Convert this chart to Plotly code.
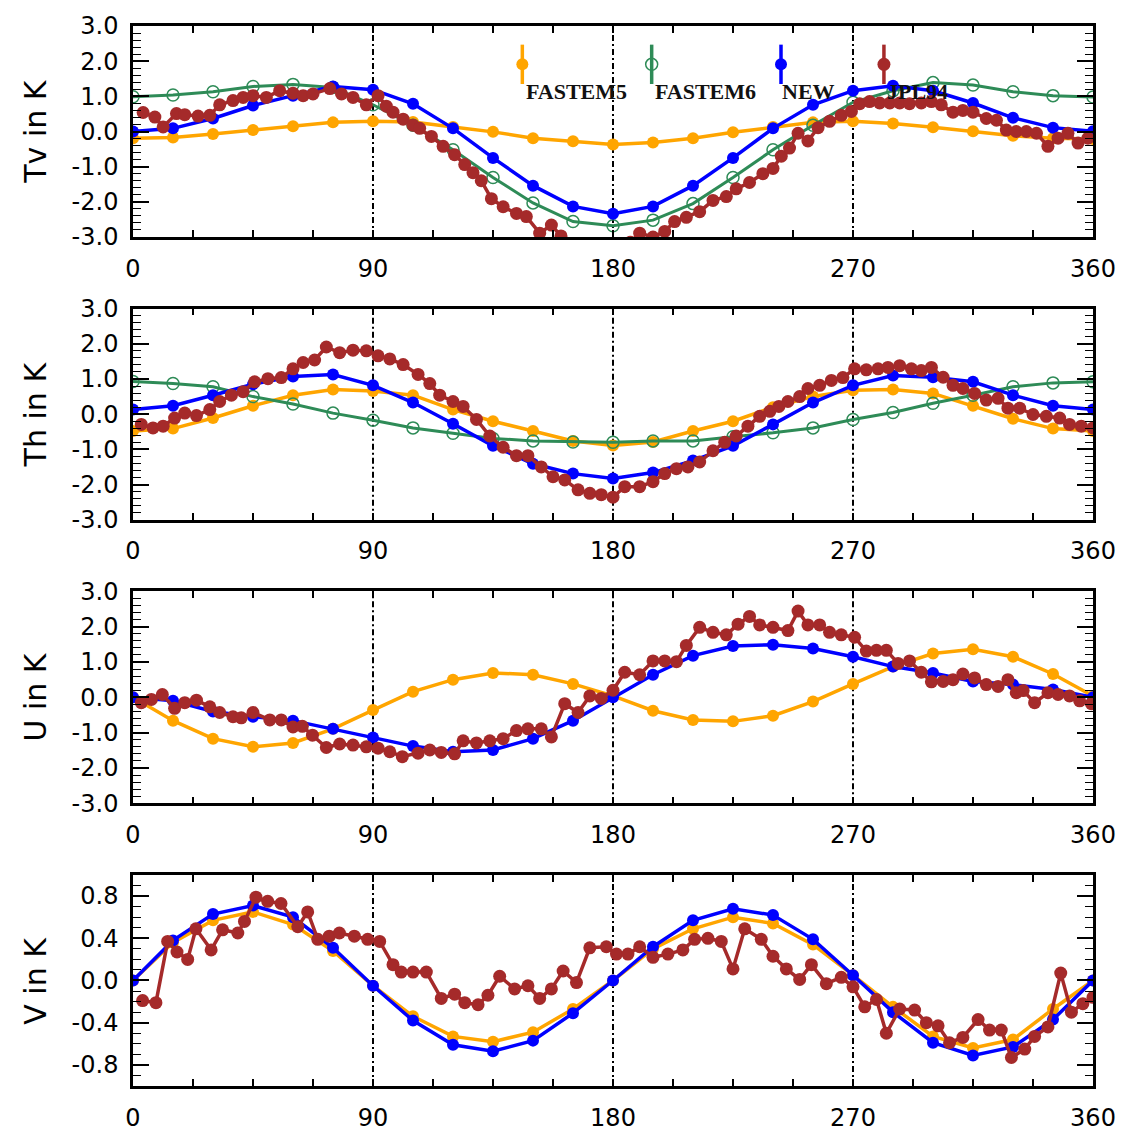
import plotly.graph_objects as go

# ---------------- data ----------------
angles = [0, 15, 30, 45, 60, 75, 90, 105, 120, 135, 150, 165, 180,
          195, 210, 225, 240, 255, 270, 285, 300, 315, 330, 345, 360]

f5_tv = [-0.19, -0.17, -0.07, 0.04, 0.15, 0.26, 0.29, 0.27, 0.13, -0.01, -0.19, -0.28, -0.37,
         -0.31, -0.19, -0.02, 0.13, 0.26, 0.29, 0.23, 0.12, 0.01, -0.12, -0.19, -0.21]
f6_tv = [0.99, 1.04, 1.13, 1.28, 1.34, 1.25, 0.76, 0.18, -0.52, -1.31, -2.03, -2.56, -2.68,
         -2.52, -2.05, -1.31, -0.52, 0.18, 0.83, 1.16, 1.39, 1.32, 1.13, 1.02, 0.98]
new_tv = [0.0, 0.09, 0.37, 0.74, 1.02, 1.28, 1.19, 0.79, 0.09, -0.75, -1.54, -2.13, -2.34,
          -2.13, -1.54, -0.75, 0.09, 0.76, 1.16, 1.30, 1.16, 0.81, 0.39, 0.11, 0.01]

f5_th = [-0.48, -0.41, -0.11, 0.24, 0.54, 0.70, 0.66, 0.54, 0.13, -0.20, -0.48, -0.76, -0.89,
         -0.79, -0.48, -0.20, 0.20, 0.50, 0.68, 0.70, 0.59, 0.24, -0.13, -0.41, -0.48]
f6_th = [0.93, 0.87, 0.78, 0.50, 0.29, 0.03, -0.17, -0.39, -0.54, -0.69, -0.76, -0.79, -0.80,
         -0.76, -0.76, -0.64, -0.53, -0.39, -0.15, 0.05, 0.31, 0.54, 0.78, 0.89, 0.92]
new_th = [0.13, 0.24, 0.54, 0.85, 1.07, 1.13, 0.82, 0.33, -0.27, -0.90, -1.41, -1.69, -1.83,
          -1.66, -1.32, -0.90, -0.29, 0.33, 0.82, 1.10, 1.05, 0.92, 0.54, 0.24, 0.13]

f5_u = [0.0, -0.66, -1.17, -1.40, -1.29, -0.89, -0.36, 0.16, 0.50, 0.69, 0.64, 0.38, 0.04,
        -0.38, -0.64, -0.68, -0.52, -0.12, 0.38, 0.87, 1.24, 1.36, 1.15, 0.66, 0.04]
new_u = [0.0, -0.10, -0.40, -0.55, -0.66, -0.89, -1.14, -1.38, -1.54, -1.49, -1.17, -0.66, 0.0,
         0.64, 1.18, 1.45, 1.49, 1.38, 1.15, 0.87, 0.69, 0.45, 0.36, 0.22, 0.0]

f5_v = [0.0, 0.36, 0.57, 0.65, 0.53, 0.28, -0.05, -0.34, -0.53, -0.58, -0.49, -0.27, 0.0,
        0.30, 0.49, 0.60, 0.54, 0.34, 0.05, -0.25, -0.53, -0.64, -0.56, -0.27, 0.0]
new_v = [0.0, 0.38, 0.63, 0.71, 0.60, 0.31, -0.05, -0.38, -0.61, -0.67, -0.57, -0.31, 0.0,
         0.32, 0.57, 0.68, 0.62, 0.39, 0.05, -0.30, -0.59, -0.71, -0.63, -0.37, 0.0]

jpl_tv_angle = [3.8, 8.2, 11.3, 16.3, 19.4, 24.4, 28.8, 32.5, 37.5, 41.3, 45.0, 50.0, 55.0, 60.0,
                63.8, 67.5, 73.8, 78.2, 82.5, 87.5, 91.9, 95.0, 97.5, 101.3, 105.0, 107.5, 111.9,
                116.3, 120.6, 124.4, 127.5, 130.6, 134.4, 138.8, 143.8, 147.5, 152.5, 156.9, 160.5,
                164.5, 169.0, 173.5, 178.0, 182.5, 186.5, 190.0, 195.0, 199.4, 203.1, 207.5, 212.5,
                217.5, 222.5, 226.2, 231.2, 236.2, 240.0, 243.1, 246.2, 249.4, 253.1, 256.9, 261.2,
                265.6, 269.4, 272.5, 276.2, 280.0, 283.8, 287.5, 291.2, 295.6, 299.4, 303.1, 307.5,
                311.2, 315.0, 320.0, 323.8, 327.5, 331.2, 335.0, 338.8, 343.1, 346.9, 350.6, 354.4,
                358.1]
jpl_tv = [0.54, 0.41, 0.13, 0.51, 0.48, 0.44, 0.46, 0.76, 0.88, 0.97, 1.02, 0.97, 1.16, 1.09,
          1.02, 1.07, 1.22, 1.07, 0.97, 0.76, 1.02, 0.72, 0.55, 0.35, 0.18, 0.09, -0.14,
          -0.42, -0.66, -0.94, -1.17, -1.40, -1.91, -2.14, -2.33, -2.42, -2.89, -2.66, -2.97,
          -3.3, -3.4, -3.45, -3.4, -3.35, -3.15, -2.89, -3.0, -2.84, -2.56, -2.44, -2.28,
          -1.96, -1.85, -1.63, -1.45, -1.20, -1.05, -0.70, -0.47, -0.05, -0.27, 0.11, 0.29,
          0.46, 0.57, 0.79, 0.85, 0.81, 0.81, 0.81, 0.79, 0.81, 0.85, 0.76, 0.55,
          0.60, 0.55, 0.37, 0.32, 0.04, 0.0, 0.0, -0.05, -0.42, -0.19, -0.05, -0.33,
          -0.19]

jpl_th_angle = [3.1, 7.5, 11.3, 15.6, 19.4, 23.8, 28.8, 32.5, 36.9, 41.3, 45.6, 50.6, 55.6, 60.0,
                63.8, 68.1, 72.5, 77.5, 82.5, 87.5, 91.9, 96.3, 101.3, 106.9, 111.3, 115.0, 120.0,
                123.8, 128.8, 133.8, 138.8, 143.8, 148.1, 153.1, 157.5, 161.9, 166.9, 171.3, 175.6,
                180.0, 184.4, 190.0, 195.0, 199.4, 203.8, 208.1, 212.5, 217.5, 221.9, 226.2, 230.6,
                235.0, 238.8, 242.2, 245.6, 250.0, 253.1, 257.5, 261.9, 266.2, 270.6, 275.0, 279.4,
                283.1, 287.5, 291.9, 295.6, 299.4, 303.8, 307.5, 311.2, 315.6, 320.0, 324.4, 328.1,
                332.5, 337.5, 342.5, 347.5, 351.2, 355.6, 360.0]
jpl_th = [-0.29, -0.39, -0.34, -0.11, 0.03, -0.04, 0.13, 0.36, 0.54, 0.64, 0.92, 1.01, 1.04, 1.29,
          1.47, 1.54, 1.91, 1.75, 1.82, 1.80, 1.66, 1.57, 1.41, 1.13, 0.87, 0.54, 0.36,
          0.22, -0.15, -0.62, -0.94, -1.18, -1.18, -1.50, -1.78, -1.87, -2.15, -2.25, -2.29,
          -2.36, -2.06, -2.06, -1.92, -1.69, -1.55, -1.50, -1.36, -1.04, -0.80, -0.62, -0.34,
          -0.06, 0.08, 0.22, 0.36, 0.50, 0.73, 0.82, 0.96, 1.04, 1.29, 1.26, 1.29,
          1.33, 1.38, 1.29, 1.24, 1.33, 1.05, 0.82, 0.73, 0.59, 0.40, 0.45, 0.17,
          0.17, -0.01, -0.06, -0.11, -0.29, -0.34, -0.39]

jpl_u_angle = [3.1, 6.9, 11.0, 15.6, 19.4, 23.8, 28.8, 32.5, 37.5, 40.6, 45.0, 51.3, 55.6, 60.0,
               63.5, 67.3, 72.5, 77.5, 82.5, 87.5, 91.9, 96.3, 101.0, 106.9, 111.3, 115.6, 120.6,
               123.8, 128.8, 133.8, 138.8, 143.8, 148.1, 153.1, 156.9, 161.9, 166.9, 171.3, 175.6,
               180.0, 184.4, 190.0, 195.0, 199.4, 203.8, 207.5, 212.5, 217.5, 222.5, 226.9, 231.2,
               235.0, 240.0, 245.6, 249.4, 253.1, 257.5, 261.2, 265.6, 270.6, 275.0, 278.8, 282.5,
               286.9, 291.2, 295.6, 299.4, 303.8, 307.5, 311.2, 315.6, 320.0, 324.4, 328.1, 331.2,
               333.8, 338.1, 343.1, 346.9, 351.2, 355.0, 359.4]
jpl_u = [-0.15, -0.06, 0.08, -0.31, -0.15, -0.08, -0.27, -0.43, -0.55, -0.58, -0.43, -0.64, -0.64, -0.84,
         -0.82, -1.07, -1.42, -1.32, -1.35, -1.40, -1.44, -1.54, -1.68, -1.58, -1.49, -1.56, -1.60,
         -1.23, -1.29, -1.23, -1.17, -0.94, -0.89, -0.89, -1.12, -0.18, -0.43, 0.04, -0.03,
         0.20, 0.71, 0.64, 1.03, 1.03, 1.01, 1.47, 1.98, 1.84, 1.77, 2.07, 2.29,
         2.05, 1.98, 1.89, 2.44, 2.05, 2.05, 1.84, 1.77, 1.70, 1.31, 1.33, 1.33,
         0.96, 1.03, 0.71, 0.44, 0.45, 0.50, 0.66, 0.55, 0.36, 0.31, 0.50, 0.13,
         0.19, -0.15, 0.13, 0.08, 0.04, -0.10, -0.18]

jpl_v_angle = [3.6, 8.6, 13.0, 16.5, 20.5, 23.6, 29.3, 33.6, 39.3, 41.8, 46.1, 50.5, 55.5, 61.8,
               65.5, 69.3, 73.6, 77.4, 83.0, 88.0, 92.5, 97.5, 100.6, 105.0, 110.0, 115.6, 120.6,
               124.4, 129.4, 133.1, 137.5, 143.1, 148.1, 152.5, 156.9, 161.3, 166.3, 171.3, 177.5,
               181.3, 185.6, 190.0, 195.0, 200.6, 206.2, 210.6, 215.6, 220.6, 225.0, 229.4, 235.6,
               240.0, 245.0, 250.0, 254.4, 260.0, 265.6, 270.0, 274.4, 278.8, 282.5, 287.5, 293.1,
               297.5, 301.9, 306.2, 311.2, 316.9, 321.2, 325.6, 329.4, 334.4, 338.1, 343.1, 347.9,
               351.9, 356.2, 360.0]
jpl_v = [-0.19, -0.21, 0.37, 0.27, 0.20, 0.49, 0.29, 0.48, 0.45, 0.56, 0.79, 0.75, 0.73, 0.51,
         0.65, 0.39, 0.42, 0.45, 0.42, 0.39, 0.37, 0.15, 0.08, 0.08, 0.08, -0.17, -0.13,
         -0.21, -0.23, -0.14, 0.04, -0.08, -0.05, -0.17, -0.08, 0.09, -0.02, 0.31, 0.32,
         0.25, 0.25, 0.32, 0.22, 0.25, 0.29, 0.39, 0.40, 0.37, 0.11, 0.49, 0.39,
         0.23, 0.11, 0.01, 0.15, -0.03, 0.03, -0.06, -0.25, -0.18, -0.50, -0.27, -0.28,
         -0.40, -0.43, -0.59, -0.54, -0.37, -0.47, -0.47, -0.73, -0.65, -0.53, -0.44, 0.07,
         -0.30, -0.22, -0.16]

series_names = ["FASTEM5", "FASTEM6", "NEW", "JPL94"]
y_titles = ["Tv in K", "Th in K", "U in K", "V in K"]
x_ticks = [0, 22.5, 45, 67.5, 90, 112.5, 135, 157.5, 180, 202.5, 225, 247.5,
           270, 292.5, 315, 337.5, 360]
x_labels = ["0", "", "", "", "90", "", "", "", "180", "", "", "", "270", "", "", "", "360"]
y_ticks_k = [-3, -2, -1, 0, 1, 2, 3]
y_ticks_v = [-0.8, -0.4, 0.0, 0.4, 0.8]

# ---------------- styles ----------------
C_F5 = "#FFA500"
C_F6 = "#2E8B57"
C_NEW = "#0000FF"
C_JPL = "#A52A2A"

FONT = "DejaVu Sans"

W, H = 1128, 1144
L, R, T, B = 133, 33, 19, 45
ph = H - T - B
panel_px = [(19, 234), (307, 522), (595, 811), (884, 1099)]
domains = [[(H - B - b) / ph, (H - B - t) / ph] for (t, b) in panel_px]

fig = go.Figure()


def style_f5():
    return dict(mode="lines+markers", line=dict(color=C_F5, width=3.5),
                marker=dict(color=C_F5, size=12, symbol="circle"))


def style_f6():
    return dict(mode="lines+markers", line=dict(color=C_F6, width=3),
                marker=dict(color=C_F6, size=12, symbol="circle-open",
                            line=dict(width=1.5)))


def style_new():
    return dict(mode="lines+markers", line=dict(color=C_NEW, width=3.5),
                marker=dict(color=C_NEW, size=12, symbol="circle"))


def style_jpl():
    return dict(mode="lines+markers", line=dict(color=C_JPL, width=3.5),
                marker=dict(color=C_JPL, size=13, symbol="circle"))


panels = [
    (f5_tv, f6_tv, new_tv, jpl_tv_angle, jpl_tv),
    (f5_th, f6_th, new_th, jpl_th_angle, jpl_th),
    (f5_u, None, new_u, jpl_u_angle, jpl_u),
    (f5_v, None, new_v, jpl_v_angle, jpl_v),
]

for i, (f5, f6, nw, ja, jv) in enumerate(panels):
    xa = "x" if i == 0 else f"x{i+1}"
    ya = "y" if i == 0 else f"y{i+1}"
    fig.add_trace(go.Scatter(x=angles, y=f5, xaxis=xa, yaxis=ya, showlegend=False,
                             name=series_names[0], **style_f5()))
    if f6 is not None:
        fig.add_trace(go.Scatter(x=angles, y=f6, xaxis=xa, yaxis=ya, showlegend=False,
                                 name=series_names[1], **style_f6()))
    fig.add_trace(go.Scatter(x=angles, y=nw, xaxis=xa, yaxis=ya, showlegend=False,
                             name=series_names[2], **style_new()))
    fig.add_trace(go.Scatter(x=ja, y=jv, xaxis=xa, yaxis=ya, showlegend=False,
                             name=series_names[3], **style_jpl()))

# legend (drawn inside the first panel, marker with vertical bar above label)
leg_x = [146, 194.5, 243, 281.6]
leg_text_x = [146.5, 195, 242.5, 282]
leg_y = 1.91
leg_styles = [style_f5(), style_f6(), style_new(), style_jpl()]
leg_colors = [C_F5, C_F6, C_NEW, C_JPL]
for k in range(4):
    st = leg_styles[k]
    fig.add_trace(go.Scatter(x=[leg_x[k]], y=[leg_y], xaxis="x", yaxis="y", mode="markers",
                             marker=st["marker"], showlegend=False,
                             error_y=dict(type="constant", value=0.56, color=leg_colors[k],
                                          thickness=3.5, width=0)))
    fig.add_annotation(x=leg_text_x[k], y=1.13, xref="x", yref="y", text=f"<b>{series_names[k]}</b>",
                       showarrow=False, xanchor="left", yanchor="middle",
                       font=dict(family="Liberation Serif", size=22, color="#111111"))

layout = dict(width=W, height=H, margin=dict(l=L, r=R, t=T, b=B),
              paper_bgcolor="white", plot_bgcolor="white")

for i in range(4):
    xk = "xaxis" if i == 0 else f"xaxis{i+1}"
    yk = "yaxis" if i == 0 else f"yaxis{i+1}"
    ya = "y" if i == 0 else f"y{i+1}"
    xa = "x" if i == 0 else f"x{i+1}"
    layout[xk] = dict(domain=[0, 1], anchor=ya, range=[0, 360], tickmode="array",
                      tickvals=x_ticks, ticktext=x_labels, ticks="inside", ticklen=7,
                      tickwidth=1.5, tickcolor="black", showline=True, linewidth=2.5,
                      linecolor="black", mirror="ticks", showgrid=False, zeroline=False,
                      tickfont=dict(family=FONT, size=24, color="black"),
                      ticklabelstandoff=8)
    if i < 3:
        yt = y_ticks_k
        ytxt = [f"{v:.1f}" for v in yt]
        rng = [-3, 3]
        mdt = 0.2
    else:
        yt = y_ticks_v
        ytxt = [f"{v:.1f}" for v in yt]
        rng = [-1, 1]
        mdt = 0.1
    layout[yk] = dict(domain=domains[i], anchor=xa, range=rng, tickmode="array",
                      tickvals=yt, ticktext=ytxt, ticks="inside", ticklen=16, tickwidth=1.5,
                      tickcolor="black", showline=True, linewidth=2.5, linecolor="black",
                      mirror="ticks", showgrid=False, zeroline=False,
                      tickfont=dict(family=FONT, size=24, color="black"),
                      ticklabelstandoff=7,
                      minor=dict(ticks="inside", ticklen=8, tickwidth=1.2, tickcolor="black",
                                 dtick=mdt, tick0=0, showgrid=False))

fig.update_layout(**layout)

for i in range(4):
    xa = "x" if i == 0 else f"x{i+1}"
    ya = "y" if i == 0 else f"y{i+1}"
    for xv in [90, 180, 270]:
        fig.add_shape(type="line", x0=xv, x1=xv, y0=0, y1=1, xref=xa, yref=f"{ya} domain",
                      line=dict(color="black", width=2, dash="6px,3px,2px,3px"), layer="below")
    fig.add_annotation(x=-(133 - 35) / 962, y=(domains[i][0] + domains[i][1]) / 2,
                       xref="paper", yref="paper", text=y_titles[i], textangle=-90,
                       showarrow=False, xanchor="center", yanchor="middle",
                       font=dict(family=FONT, size=30, color="black"))

fig.write_html("out.html")
